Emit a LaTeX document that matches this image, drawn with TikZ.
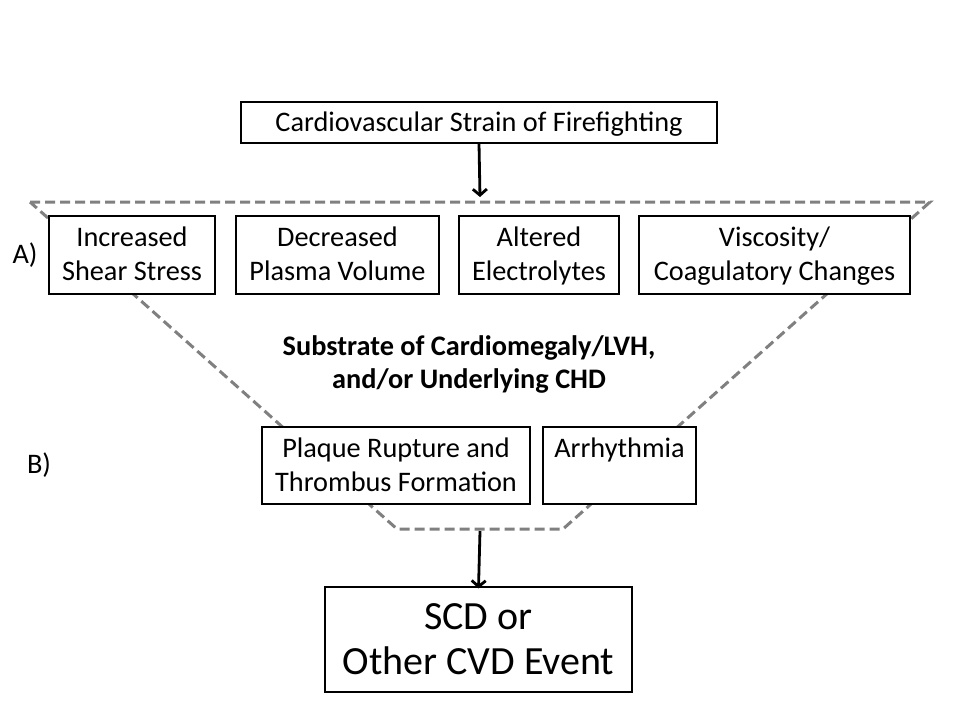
\documentclass[tikz,border=0pt]{standalone}
\usepackage{fontspec}
\setmainfont{Carlito}
\usetikzlibrary{arrows.meta}
\begin{document}
\begin{tikzpicture}[x=1pt,y=-1pt,
  box/.style={draw=black,fill=white,line width=1.1pt,inner sep=0pt,align=center,
    font=\fontsize{28.3}{34}\selectfont,text height=59.7pt,text depth=8.3pt},
  topbox/.style={box,text height=26pt,text depth=8pt},
  bigbox/.style={box,font=\fontsize{40}{45}\selectfont,text height=79.5pt,text depth=10.5pt},
  lbl/.style={inner sep=0pt,anchor=base,font=\fontsize{28.3}{34}\selectfont},
  bold/.style={inner sep=0pt,align=center,font=\fontsize{28.3}{33}\selectfont\bfseries,text height=56.1pt,text depth=9.9pt},
  trap/.style={draw=black!50,line width=3pt,dash pattern=on 10pt off 5pt},
  arr/.style={line width=2.8pt,-{Straight Barb[length=6pt,width=14pt]}}]
\useasboundingbox (0,0) rectangle (960,720);
\fill[white] (0,0) rectangle (960,720);
% funnel
\draw[trap] (30,202) -- (930,202) -- (563,529) -- (397,529) -- cycle;
% top box
\node[topbox,minimum width=476pt,minimum height=41pt] (top) at (479,122.5) {Cardiovascular Strain of Firefighting};
\coordinate (funtop) at (480,197);
\draw[arr] (top.south) -- (funtop);
% A row
\node[box,minimum width=166pt,minimum height=78pt] (a1) at (132,255) {Increased\\Shear Stress};
\node[box,minimum width=203pt,minimum height=78pt] (a2) at (337.5,255) {Decreased\\Plasma Volume};
\node[box,minimum width=160pt,minimum height=78pt] (a3) at (539,255) {Altered\\Electrolytes};
\node[box,minimum width=271pt,minimum height=78pt] (a4) at (774.5,255) {Viscosity/\\Coagulatory Changes};
\node[lbl] (la) at (25,263.3) {A)};
% substrate
\node[bold] (sub) at (469,365) {Substrate of Cardiomegaly/LVH,\\and/or Underlying CHD};
% B row
\node[box,minimum width=268pt,minimum height=77pt] (b1) at (396,465.5) {Plaque Rupture and\\Thrombus Formation};
\node[box,minimum width=153pt,minimum height=77pt] (b2) at (619.5,465.5) {Arrhythmia\\\mbox{}};
\node[lbl] (lb) at (39,473.3) {B)};
% result
\coordinate (funbot) at (480,531);
\node[bigbox,minimum width=307pt,minimum height=105pt] (res) at (478.5,639.5) {SCD or\\Other CVD Event};
\draw[arr] (funbot) -- ([yshift=-2pt]res.north);
\end{tikzpicture}
\end{document}
